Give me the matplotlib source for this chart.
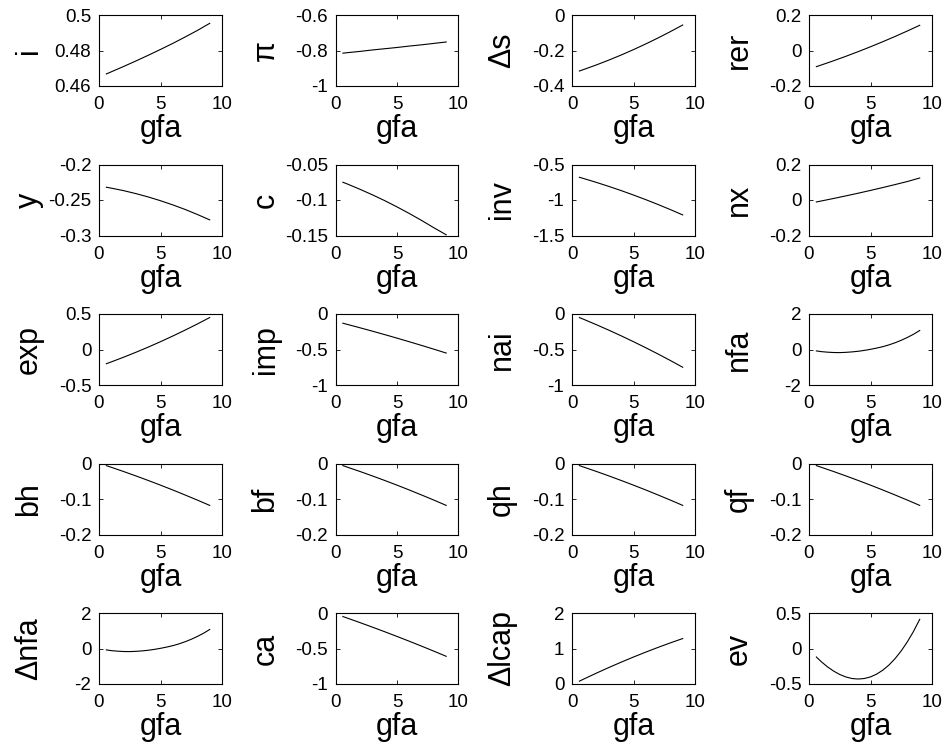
import matplotlib
matplotlib.use("Agg")
import matplotlib.pyplot as plt
from matplotlib.ticker import FixedLocator, FuncFormatter

plt.rcParams['font.family'] = ['Liberation Sans', 'DejaVu Sans']
plt.rcParams['axes.unicode_minus'] = False

# ---- data ----
gfa = [0.6, 1, 2, 3, 4, 5, 6, 7, 8, 9]
gfa_fine = [0.6, 1, 1.5, 2, 2.5, 3, 3.5, 4, 4.5, 5, 5.5, 6, 6.5, 7, 7.5, 8, 8.5, 9]

i_vals    = [0.4668, 0.4680, 0.4710, 0.4741, 0.4773, 0.4806, 0.4840, 0.4876, 0.4913, 0.4953]
pi_vals   = [-0.815, -0.812, -0.805, -0.797, -0.790, -0.783, -0.775, -0.768, -0.760, -0.752]
ds_vals   = [-0.3155, -0.3059, -0.2808, -0.2539, -0.2253, -0.195, -0.1629, -0.1291, -0.0936, -0.0563]
rer_vals  = [-0.091, -0.0817, -0.0578, -0.0326, -0.0064, 0.021, 0.0496, 0.0792, 0.1101, 0.142]

y_vals    = [-0.232, -0.2333, -0.2368, -0.2410, -0.2457, -0.251, -0.2569, -0.2633, -0.2704, -0.278]
c_vals    = [-0.075, -0.0777, -0.0850, -0.0927, -0.1009, -0.1097, -0.1190, -0.1288, -0.1391, -0.149]
inv_vals  = [-0.68, -0.7002, -0.7530, -0.8088, -0.8678, -0.93, -0.9953, -1.0637, -1.1353, -1.21]
nx_vals   = [-0.011, -0.0055, 0.0086, 0.0232, 0.0383, 0.054, 0.0702, 0.0870, 0.1042, 0.124]

exp_vals  = [-0.20, -0.1746, -0.1086, -0.0392, 0.0336, 0.11, 0.1898, 0.2730, 0.3598, 0.45]
imp_vals  = [-0.13, -0.1482, -0.1944, -0.2418, -0.2903, -0.34, -0.3908, -0.4427, -0.4958, -0.55]
nai_vals  = [-0.05, -0.0785, -0.1518, -0.2282, -0.3076, -0.39, -0.4755, -0.5639, -0.6554, -0.75]
nfa_vals  = [-0.08, -0.12, -0.15, -0.17, -0.175, -0.16, -0.135, -0.10, -0.05,
             0.01, 0.08, 0.16, 0.26, 0.38, 0.52, 0.68, 0.86, 1.07]

bh_vals   = [-0.006, -0.0107, -0.0226, -0.0350, -0.0478, -0.061, -0.0746, -0.0887, -0.1031, -0.118]
bf_vals   = [-0.006, -0.0107, -0.0226, -0.0350, -0.0478, -0.061, -0.0746, -0.0887, -0.1031, -0.118]
qh_vals   = [-0.006, -0.0107, -0.0226, -0.0350, -0.0478, -0.061, -0.0746, -0.0887, -0.1031, -0.118]
qf_vals   = [-0.006, -0.0107, -0.0226, -0.0350, -0.0478, -0.061, -0.0746, -0.0887, -0.1031, -0.118]

dnfa_vals = [-0.08, -0.12, -0.15, -0.17, -0.175, -0.16, -0.135, -0.10, -0.05,
             0.01, 0.08, 0.16, 0.26, 0.38, 0.52, 0.68, 0.86, 1.07]
ca_vals   = [-0.05, -0.0742, -0.1359, -0.1991, -0.2638, -0.33, -0.3977, -0.4670, -0.5377, -0.61]
dlcap_vals = [0.08, 0.1465, 0.3086, 0.4649, 0.6154, 0.76, 0.8988, 1.0317, 1.1588, 1.28]
ev_vals   = [-0.12, -0.186, -0.258, -0.318, -0.366, -0.401, -0.423, -0.43, -0.4225,
             -0.400, -0.361, -0.305, -0.233, -0.142, -0.033, 0.095, 0.242, 0.41]

y_labels = ['i', 'π', 'Δs', 'rer',
            'y', 'c', 'inv', 'nx',
            'exp', 'imp', 'nai', 'nfa',
            'bh', 'bf', 'qh', 'qf',
            'Δnfa', 'ca', 'Δlcap', 'ev']

series = [i_vals, pi_vals, ds_vals, rer_vals,
          y_vals, c_vals, inv_vals, nx_vals,
          exp_vals, imp_vals, nai_vals, nfa_vals,
          bh_vals, bf_vals, qh_vals, qf_vals,
          dnfa_vals, ca_vals, dlcap_vals, ev_vals]

y_ticks = [[0.46, 0.48, 0.5], [-1, -0.8, -0.6], [-0.4, -0.2, 0], [-0.2, 0, 0.2],
           [-0.3, -0.25, -0.2], [-0.15, -0.1, -0.05], [-1.5, -1, -0.5], [-0.2, 0, 0.2],
           [-0.5, 0, 0.5], [-1, -0.5, 0], [-1, -0.5, 0], [-2, 0, 2],
           [-0.2, -0.1, 0], [-0.2, -0.1, 0], [-0.2, -0.1, 0], [-0.2, -0.1, 0],
           [-2, 0, 2], [-1, -0.5, 0], [0, 1, 2], [-0.5, 0, 0.5]]

x_ticks = [0, 5, 10]
x_label = 'gfa'

# ---- layout ----
W, H = 948, 751
fig = plt.figure(figsize=(W / 100, H / 100), dpi=100)
col_left = [99, 335.5, 572, 809]
ax_w, ax_h = 123, 71
row_top0, row_pitch = 15, 149.5

fmt = FuncFormatter(lambda v, p: '{:g}'.format(round(v, 6)))

for k, (lab, vals, yt) in enumerate(zip(y_labels, series, y_ticks)):
    r, c = divmod(k, 4)
    top = row_top0 + row_pitch * r
    ax = fig.add_axes([col_left[c] / W, 1 - (top + ax_h) / H, ax_w / W, ax_h / H])
    xs = gfa if len(vals) == len(gfa) else gfa_fine
    ax.plot(xs, vals, color='black', linewidth=0.8)
    ax.set_xlim(x_ticks[0], x_ticks[-1])
    ax.set_ylim(yt[0], yt[-1])
    ax.xaxis.set_major_locator(FixedLocator(x_ticks))
    ax.yaxis.set_major_locator(FixedLocator(yt))
    ax.xaxis.set_major_formatter(fmt)
    ax.yaxis.set_major_formatter(fmt)
    ax.tick_params(direction='in', length=3, width=0.6, top=True, right=True,
                   labelsize=13.5, colors='black')
    ax.tick_params(axis='x', pad=7.5)
    ax.tick_params(axis='y', pad=5.5)
    for s in ax.spines.values():
        s.set_linewidth(0.8)
    ax.set_ylabel(lab, fontsize=22)
    ax.yaxis.set_label_coords(-0.447, 0.5)
    ax.set_xlabel(x_label, fontsize=22)
    ax.xaxis.set_label_coords(0.5, -0.40)

fig.savefig('out.png', dpi=100, facecolor='white')
